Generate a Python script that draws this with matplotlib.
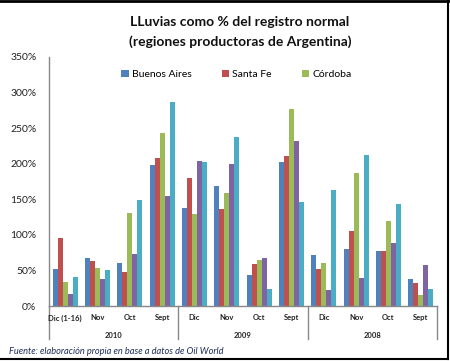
import matplotlib
matplotlib.use("Agg")
import matplotlib.pyplot as plt
import numpy as np
from matplotlib.lines import Line2D

plt.rcParams['font.family'] = ['Lato', 'DejaVu Sans']

months = ["Dic (1-16)", "Nov", "Oct", "Sept", "Dic", "Nov", "Oct", "Sept", "Dic", "Nov", "Oct", "Sept"]
years = ["2010", "2009", "2008"]
series_names = ["Buenos Aires", "Santa Fe", "Córdoba", "Serie 4", "Serie 5"]
buenos_aires = [52, 68, 60, 198, 138, 169, 43, 203, 72, 80, 78, 38]
santa_fe = [96, 63, 48, 208, 180, 137, 59, 211, 52, 105, 78, 33]
cordoba = [34, 53, 131, 243, 129, 159, 64, 277, 60, 187, 120, 15]
serie4 = [17, 38, 73, 155, 204, 200, 67, 232, 22, 40, 88, 57]
serie5 = [41, 51, 149, 287, 203, 237, 24, 146, 163, 212, 143, 24]
values = [buenos_aires, santa_fe, cordoba, serie4, serie5]
colors = ["#4F81BD", "#C0504D", "#9BBB59", "#8064A2", "#4BACC6"]

fig = plt.figure(figsize=(4.5, 3.61), dpi=100)
ax = fig.add_axes([49/450, 1 - 306/361, (437-49)/450, (306-57)/361])

x = np.arange(len(months))
w = 0.155
bars = []
for i, (vals, c) in enumerate(zip(values, colors)):
    b = ax.bar(x + (i - 2) * w, vals, width=w, color=c, edgecolor='none')
    bars.append(b)

ax.set_xlim(-0.5, len(months) - 0.5)
ax.set_ylim(0, 350)
ax.set_yticks(range(0, 351, 50))
ax.set_yticklabels([f"{v}%" for v in range(0, 351, 50)], fontsize=7.5, color="#222222")
ax.tick_params(axis='y', length=0, pad=9)
ax.set_xticks([])
for s in ['top', 'right']:
    ax.spines[s].set_visible(False)
for s in ['left', 'bottom']:
    ax.spines[s].set_color('#888888')
    ax.spines[s].set_linewidth(1)

trans = ax.get_xaxis_transform()
for i, m in enumerate(months):
    ax.text(i, -0.048, m, transform=trans, ha='center', va='center', fontsize=5.5, fontweight='bold', color='#222222')
for g, yr in enumerate(years):
    ax.text(g * 4 + 1.5, -0.117, yr, transform=trans, ha='center', va='center', fontsize=5.5, fontweight='bold', color='#222222')
for b in [-0.5, 3.5, 7.5, 11.5]:
    ax.plot([b, b], [0, -0.134], transform=trans, color='#888888', lw=1, clip_on=False)

ax.legend(bars[:3], series_names[:3], loc='upper center', bbox_to_anchor=(0.483, 0.985), ncol=3,
          frameon=False, fontsize=7.5, handlelength=0.7, handleheight=0.7, handletextpad=0.3,
          columnspacing=2.9)

fig.text(240/450, 1 - 22/361, "LLuvias como % del registro normal", ha='center', va='center',
         fontsize=10, fontweight='bold', color='#111111')
fig.text(240/450, 1 - 42/361, "(regiones productoras de Argentina)", ha='center', va='center',
         fontsize=10, fontweight='bold', color='#111111')
fig.text(9/450, 1 - 352/361, "Fuente: elaboración propia en base a datos de Oil World", ha='left', va='center',
         fontsize=6.7, style='italic', color='#1F2D5A')

# figure frame
fig.add_artist(Line2D([0, 449/450], [1 - 1/361, 1 - 1/361], transform=fig.transFigure, color='black', lw=2))
fig.add_artist(Line2D([448/450, 448/450], [1 - 1/361, 1 - 359/361], transform=fig.transFigure, color='black', lw=1.5))
fig.add_artist(Line2D([0, 448/450], [1 - 359/361, 1 - 359/361], transform=fig.transFigure, color='black', lw=1.5))

fig.savefig("out.png", dpi=100)
